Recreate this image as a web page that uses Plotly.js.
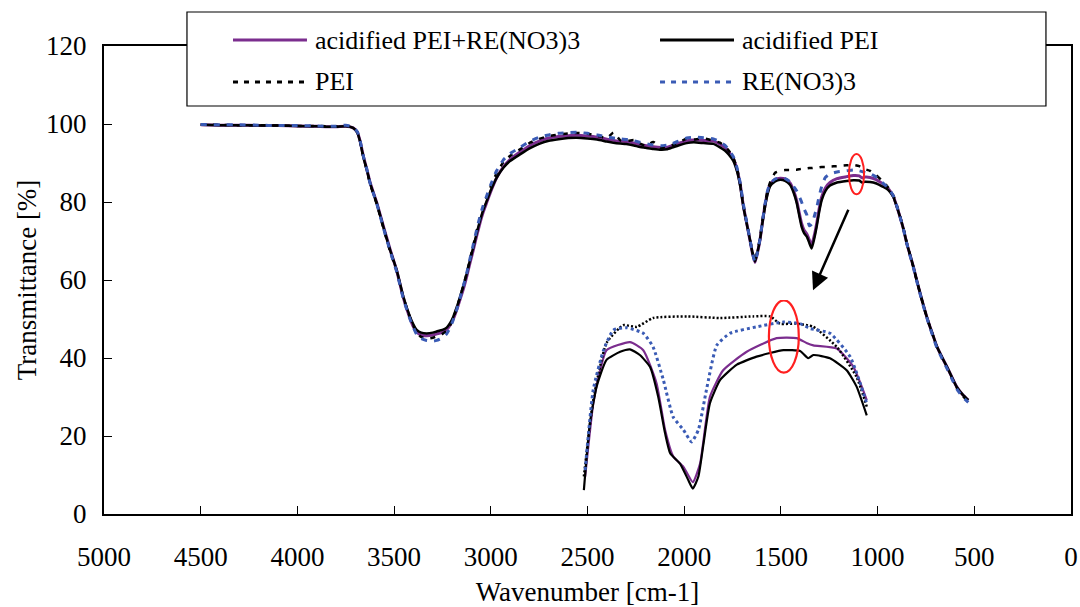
<!DOCTYPE html>
<html>
<head>
<meta charset="utf-8">
<script src="https://cdn.plot.ly/plotly-3.0.1.min.js"></script>
<style>html,body{margin:0;padding:0;background:#fff;}#chart{width:1080px;height:607px;}</style>
</head>
<body>
<div id="chart"></div>
<script>
// ---- Main spectra (wavenumber, cm-1) ----
const wavenumber = [
4500,4400,4300,4200,4100,4000,3900,3800,3750,3712,
3690,3676,3659,3640,3624,3607,3590,3556,3521,3487,
3452,3418,3400,3383,3360,3332,3300,3280,3250,3228,
3210,3194,3175,3159,3140,3124,3107,3090,3073,3056,
3040,3021,3000,2970,2935,2901,2849,2797,2750,2700,
2650,2600,2556,2500,2450,2400,2366,2330,2300,2260,
2228,2200,2160,2120,2090,2060,2030,1987,1950,1900,
1849,1815,1790,1770,1746,1725,1710,1694,1677,1660,
1647,1634,1621,1608,1595,1582,1569,1556,1530,1504,
1478,1453,1435,1418,1405,1393,1380,1366,1353,1341,
1328,1315,1302,1289,1270,1246,1210,1160,1125,1095,
1080,1065,1039,1010,980,953,935,918,901,884,
866,849,832,815,798,780,763,746,729,712,
694,668,642,617,591,560,531];

const acidPEI_RE = [
99.8,99.7,99.7,99.6,99.6,99.5,99.4,99.3,99.4,99.0,
97.9,95.7,91.8,88.2,85.0,82.4,79.9,73.9,67.9,62.5,
55.4,50.2,48.0,46.6,45.9,45.7,45.9,46.2,46.6,47.3,
48.5,50.0,52.5,55.0,58.0,61.0,64.5,67.8,71.3,74.6,
77.3,79.9,82.7,86.2,89.0,90.9,92.8,94.5,95.6,96.4,
96.8,97.0,97.1,96.9,96.6,96.1,95.8,95.6,95.5,95.1,
94.7,94.5,94.2,94.0,94.0,94.5,95.0,95.7,95.9,95.8,
95.6,94.8,94.0,92.9,91.1,88.0,84.4,79.0,74.6,70.2,
66.8,64.5,67.0,70.3,75.0,79.2,82.5,84.5,85.8,86.1,
85.9,84.9,83.0,80.3,77.2,74.5,72.8,71.8,70.3,69.0,
71.3,74.5,78.3,81.3,83.6,85.0,86.0,86.5,86.8,86.7,
86.2,86.4,86.3,85.8,84.9,83.8,82.8,81.4,78.9,76.2,
73.0,69.4,66.4,63.4,60.0,56.6,53.5,50.6,48.0,45.6,
43.0,40.3,37.8,35.2,32.6,30.6,29.2];

const acidPEI = [
99.8,99.7,99.7,99.6,99.6,99.5,99.4,99.3,99.4,99.0,
97.8,95.5,91.5,88.0,84.8,82.2,79.7,73.7,67.7,62.6,
55.7,50.6,48.6,47.2,46.5,46.3,46.5,46.8,47.2,47.8,
49.0,50.6,53.2,55.7,58.8,61.7,65.2,68.5,72.0,75.2,
77.8,80.3,83.0,86.2,88.8,90.5,92.2,93.8,94.9,95.7,
96.1,96.4,96.5,96.3,96.0,95.5,95.2,95.0,94.9,94.5,
94.1,93.9,93.6,93.4,93.5,94.0,94.5,95.1,95.3,95.1,
94.9,94.0,93.2,92.2,90.5,87.5,84.0,78.8,74.5,70.3,
67.0,64.7,67.2,70.3,74.8,78.8,82.0,84.0,85.3,85.7,
85.4,84.4,82.5,79.7,76.5,73.7,72.0,71.1,69.5,68.1,
70.5,73.7,77.5,80.5,82.8,84.2,85.0,85.4,85.6,85.5,
85.0,85.2,85.1,84.8,84.1,83.4,82.5,81.2,78.8,76.2,
73.0,69.4,66.4,63.4,60.0,56.6,53.5,50.6,48.0,45.6,
43.0,40.3,37.8,35.2,32.6,30.6,29.2];

const PEI = [
99.9,99.8,99.7,99.7,99.6,99.5,99.5,99.4,99.6,99.1,
97.9,95.6,91.6,88.0,84.6,82.0,79.5,73.4,67.4,62.3,
55.4,50.4,48.3,46.5,45.4,45.0,45.2,45.6,46.2,47.0,
48.4,50.2,53.0,55.6,58.9,61.9,65.5,69.0,72.6,75.9,
78.6,81.2,84.0,87.4,90.2,91.8,93.5,95.2,96.2,96.9,
97.3,97.6,97.7,97.5,97.0,96.4,97.8,95.8,95.6,95.9,
95.0,94.4,95.4,93.8,94.3,94.6,95.3,96.2,96.0,96.3,
95.7,95.2,94.3,93.2,91.4,88.2,84.6,79.2,74.8,70.5,
67.2,65.0,67.5,70.8,75.4,79.6,83.0,85.0,87.5,88.0,
88.2,88.2,88.3,88.3,88.4,88.5,88.5,88.6,88.7,88.7,
88.8,88.8,88.9,89.0,89.0,89.1,89.2,89.4,89.5,89.2,
88.8,88.4,88.0,87.0,85.6,84.2,83.0,81.6,79.2,76.4,
73.1,69.5,66.4,63.3,59.9,56.5,53.4,50.5,47.9,45.5,
42.9,40.2,37.6,35.0,32.4,30.3,28.9];

const RE_NO3_3 = [
99.9,99.8,99.8,99.7,99.6,99.6,99.5,99.4,99.7,99.2,
98.0,95.8,91.8,88.2,84.8,82.2,79.6,73.5,67.5,62.2,
55.2,50.0,47.8,46.0,45.0,44.5,44.3,44.5,45.2,46.2,
47.8,49.8,52.6,55.4,58.8,61.9,65.6,69.2,72.9,76.3,
79.0,81.6,84.5,88.0,90.8,92.4,94.0,95.6,96.6,97.2,
97.6,97.8,97.9,97.6,97.2,96.7,96.4,96.2,96.0,95.7,
95.3,95.0,94.6,94.4,94.6,95.0,95.6,96.4,96.6,96.5,
96.2,95.4,94.6,93.4,91.6,88.4,84.8,79.4,74.8,70.4,
67.0,64.6,67.2,70.5,75.2,79.5,82.9,84.8,85.9,86.2,
86.0,85.2,84.0,82.8,81.4,80.0,78.2,76.7,73.9,74.3,
76.2,78.5,81.5,84.0,86.3,87.2,87.7,88.0,88.2,88.0,
87.8,87.6,87.3,86.5,85.2,84.0,82.9,81.5,79.0,76.2,
72.9,69.3,66.2,63.2,59.8,56.4,53.3,50.4,47.8,45.3,
42.7,40.0,37.4,34.8,32.1,30.0,28.6];

// ---- Inset (magnified 1600-940 cm-1 region) ----
const insetWnAcidRE = [1600,1581,1565,1550,1495,1464,1433,1413,1394,1370,1348,1331,1308,1277,1222,1152,1105,1082,1066,1011,972,941];
const insetAcidRE   = [69.3,78.4,82.5,85.0,86.0,85.0,80.9,75.1,71.8,70.5,68.6,70.9,79.2,82.5,84.8,86.5,86.5,85.9,85.6,85.2,82.9,78.8];
const insetWnAcid = [1603,1589,1573,1550,1518,1495,1472,1448,1429,1413,1401,1378,1359,1348,1335,1323,1308,1284,1245,1199,1136,1097,1078,1066,1027,988,965,941];
const insetAcid   = [67.6,75.9,80.5,83.8,84.8,85.1,84.4,82.9,79.2,74.7,72.2,70.9,68.9,67.8,69.3,73.4,78.4,81.3,83.2,84.2,85.0,84.9,84.0,84.4,84.0,82.5,80.5,76.9];
const insetWnPEI = [1603,1581,1550,1511,1479,1441,1362,1284,1207,1167,1144,1105,1066,1011,965,941];
const insetPEI   = [69.3,78.8,85.9,88.1,87.9,89.0,89.2,89.0,89.2,89.2,88.3,88.3,87.9,85.4,81.7,78.0];
const insetWnRE = [1600,1581,1557,1534,1503,1464,1441,1417,1394,1370,1351,1335,1316,1292,1261,1199,1136,1097,1074,1027,980,941];
const insetRE   = [70.1,80.1,85.0,87.5,87.8,87.1,85.4,81.3,76.7,75.1,73.6,75.1,80.1,85.6,87.1,87.9,88.5,88.3,87.7,87.1,84.2,78.4];

const seriesNames = ['acidified PEI+RE(NO3)3','acidified PEI','PEI','RE(NO3)3'];
const xTicks = [5000,4500,4000,3500,3000,2500,2000,1500,1000,500,0];
const yTicks = [0,20,40,60,80,100,120];

const PURPLE = '#7B2D8E', BLUE = '#3A5BB5', BLACK = '#000000';
const FONT = '"Liberation Serif"';

const traces = [
  {x: wavenumber, y: acidPEI_RE, name: seriesNames[0], mode:'lines', line:{color:PURPLE, width:3}},
  {x: wavenumber, y: acidPEI, name: seriesNames[1], mode:'lines', line:{color:BLACK, width:2.5}},
  {x: wavenumber, y: PEI, name: seriesNames[2], mode:'lines', line:{color:BLACK, width:2.5, dash:'5px,7px'}},
  {x: wavenumber, y: RE_NO3_3, name: seriesNames[3], mode:'lines', line:{color:BLUE, width:3, dash:'6px,7px'}},
  {x: insetWnAcidRE, y: insetAcidRE, xaxis:'x2', yaxis:'y2', mode:'lines', line:{color:PURPLE, width:2.2}, name: seriesNames[0]},
  {x: insetWnAcid, y: insetAcid, xaxis:'x2', yaxis:'y2', mode:'lines', line:{color:BLACK, width:2.2}, name: seriesNames[1]},
  {x: insetWnPEI, y: insetPEI, xaxis:'x2', yaxis:'y2', mode:'lines', line:{color:BLACK, width:2.5, dash:'2px,2px'}, name: seriesNames[2]},
  {x: insetWnRE, y: insetRE, xaxis:'x2', yaxis:'y2', mode:'lines', line:{color:BLUE, width:3, dash:'3px,3px'}, name: seriesNames[3]}
];
traces.forEach(t => { t.showlegend = false; t.line.shape = 'spline'; t.line.smoothing = 0.5; t.hoverinfo = 'skip'; });

// custom legend (box, samples, labels) in paper coordinates
const legX = [0.1334, 0.5750], legSampleW = 0.0765, legRows = [1.0128, 0.9231];
const legendItems = [
  {col:0,row:0,color:PURPLE,dash:'solid',w:3},
  {col:1,row:0,color:BLACK,dash:'solid',w:3},
  {col:0,row:1,color:BLACK,dash:'5px,6px',w:3},
  {col:1,row:1,color:BLUE,dash:'5px,6px',w:3}
];
const shapes = [
  {type:'rect', xref:'paper', yref:'paper', x0:0.0858, x1:0.9741, y0:0.8718, y1:1.0726,
   fillcolor:'#ffffff', line:{color:'#000', width:1.2}, layer:'above'},
  // red ellipse in main spectrum
  {type:'circle', xref:'x', yref:'y', x0:1148, x1:1070, y0:82.0, y1:92.3, line:{color:'#ff2020', width:2}},
  // red ellipse in inset
  {type:'circle', xref:'x2', yref:'y2', x0:1170, x1:1100, y0:82.2, y1:91.2, line:{color:'#ff2020', width:2.2}}
];
const annotations = [];
legendItems.forEach((it, i) => {
  shapes.push({type:'line', xref:'paper', yref:'paper', x0:legX[it.col], x1:legX[it.col]+legSampleW,
    y0:legRows[it.row], y1:legRows[it.row], line:{color:it.color, width:it.w, dash:it.dash}, layer:'above'});
  annotations.push({xref:'paper', yref:'paper', x:legX[it.col]+legSampleW+0.0062, y:legRows[it.row],
    xanchor:'left', yanchor:'middle', text:seriesNames[i], showarrow:false, font:{family:FONT, size:26, color:'#000'}});
});
// arrow from main region to inset
annotations.push({xref:'x', yref:'y', x:1334, y:57.4, ax:36, ay:-82, showarrow:true, text:'',
  arrowhead:2, arrowsize:1.4, arrowwidth:2.5, arrowcolor:'#000'});

const layout = {
  width:1080, height:607,
  margin:{l:104, r:9, t:46, b:93},
  paper_bgcolor:'#fff', plot_bgcolor:'#fff',
  font:{family:FONT, size:27, color:'#000'},
  showlegend:false,
  xaxis:{range:[5000,0], tickvals:xTicks, ticks:'inside', ticklen:8, tickwidth:1, tickcolor:'#000',
    showline:true, linewidth:2, linecolor:'#000', mirror:true, showgrid:false, zeroline:false,
    ticklabelstandoff:18, tickfont:{family:FONT, size:27},
    title:{text:'Wavenumber [cm-1]', font:{family:FONT, size:27}, standoff:16}},
  yaxis:{range:[0,120], tickvals:yTicks, ticks:'inside', ticklen:8, tickwidth:1, tickcolor:'#000',
    showline:true, linewidth:2, linecolor:'#000', mirror:true, showgrid:false, zeroline:false,
    ticklabelstandoff:10, tickfont:{family:FONT, size:27},
    title:{text:'Transmittance [%]', font:{family:FONT, size:27}, standoff:2}},
  xaxis2:{domain:[0.4871,0.7973], range:[1623.7,921.7], anchor:'y2', visible:false, showgrid:false, zeroline:false},
  yaxis2:{domain:[0.0299,0.4573], range:[66.38,91.24], anchor:'x2', visible:false, showgrid:false, zeroline:false},
  shapes: shapes,
  annotations: annotations
};

Plotly.newPlot('chart', traces, layout, {staticPlot:true, displayModeBar:false});
</script>
</body>
</html>
